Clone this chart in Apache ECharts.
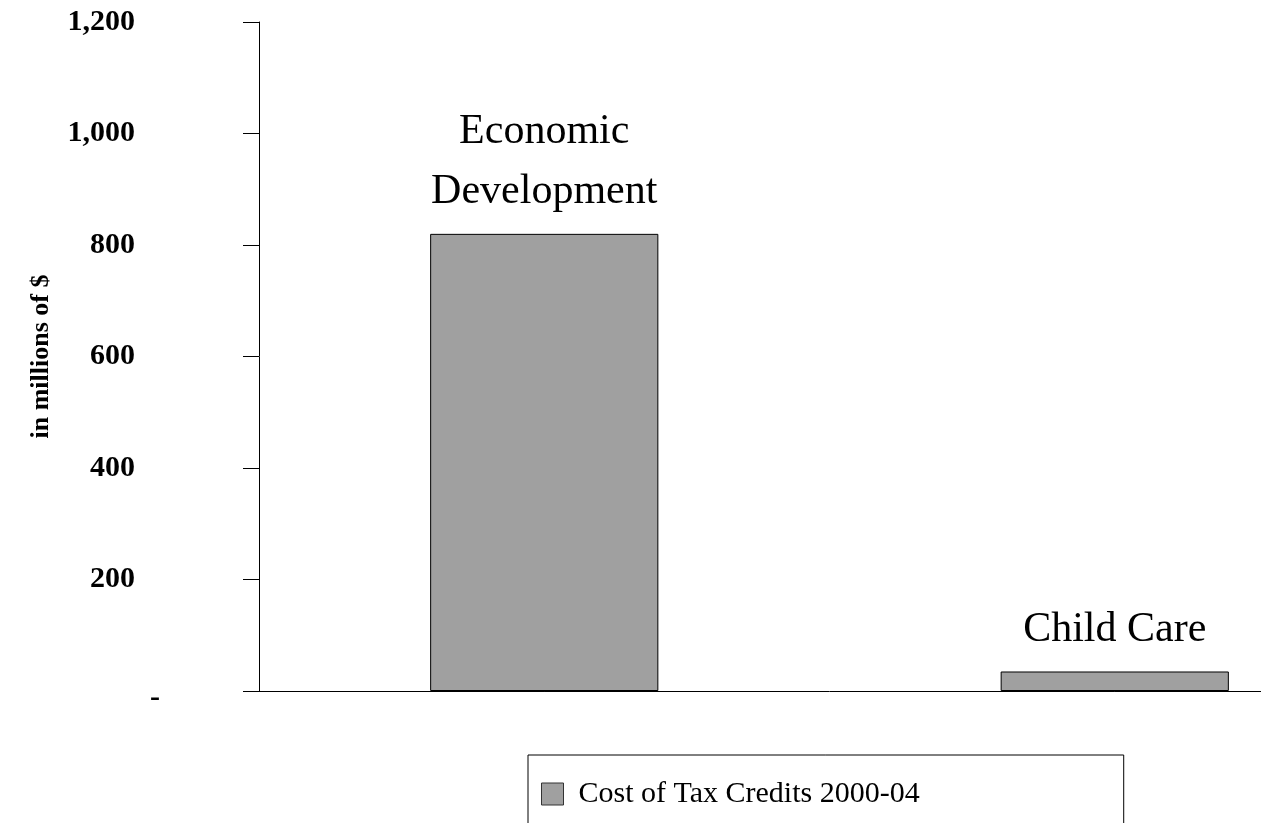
<!DOCTYPE html>
<html>
<head>
<meta charset="utf-8">
<script src="https://cdn.jsdelivr.net/npm/echarts@6/dist/echarts.min.js"></script>
<style>
    html, body { margin: 0; padding: 0; background: #fff; overflow: hidden; }
    /* plot runs past the right edge of the window in the original */
    #barChart { width: 1400px; height: 823px; }
</style>
</head>
<body>
<div id="barChart"></div>
<script>
    // categories and values
    const categories = ['Economic Development', 'Child Care'];
    const costValues = [820, 35];
    const seriesName = 'Cost of Tax Credits 2000-04';
    const yTicks = [0, 200, 400, 600, 800, 1000, 1200];

    const barChart = echarts.init(document.getElementById('barChart'));
    const serif = "'Liberation Serif', 'Times New Roman', serif";

    const option = {
        animation: false,
        grid: {
            left: 259,
            right: 0,
            top: 22,
            bottom: 132
        },
        legend: {
            data: [seriesName],
            left: 528,
            top: 755,
            padding: [24, 204, 40, 13],
            borderColor: '#000',
            borderWidth: 1,
            icon: 'rect',
            itemWidth: 22,
            itemHeight: 22,
            itemStyle: { borderColor: '#333', borderWidth: 1 },
            textStyle: {
                fontFamily: serif,
                fontSize: 30,
                color: '#000',
                padding: [0, 0, 0, 10]
            }
        },
        xAxis: {
            type: 'category',
            data: categories,
            axisLine: { lineStyle: { color: '#000', width: 1 } },
            axisTick: { show: false },
            axisLabel: { show: false }
        },
        yAxis: {
            type: 'value',
            min: yTicks[0],
            max: yTicks[yTicks.length - 1],
            interval: 200,
            name: 'in millions of $',
            nameLocation: 'middle',
            nameRotate: 90,
            nameGap: 205,
            nameTextStyle: {
                fontFamily: serif,
                fontSize: 26,
                fontWeight: 'bold',
                color: '#000'
            },
            splitLine: { show: false },
            axisLine: { show: true, lineStyle: { color: '#000', width: 1 } },
            axisTick: { show: true, length: 16, lineStyle: { color: '#000' } },
            axisLabel: {
                margin: 99,
                formatter: function (v) {
                    if (v === 0) return '{z|-}';
                    return '{n|' + v.toLocaleString('en-US') + '}';
                },
                rich: {
                    n: {
                        fontFamily: serif,
                        fontSize: 30,
                        fontWeight: 'bold',
                        color: '#000',
                        padding: [0, 25, 0, 0]
                    },
                    z: {
                        fontFamily: serif,
                        fontSize: 30,
                        fontWeight: 'bold',
                        color: '#000',
                        padding: [14, 0, 0, 0]
                    }
                }
            }
        },
        series: [{
            name: seriesName,
            type: 'bar',
            data: costValues,
            barWidth: '40%',
            itemStyle: {
                color: '#a0a0a0',
                borderColor: '#000',
                borderWidth: 1
            },
            label: {
                show: true,
                position: 'top',
                distance: 12,
                fontFamily: serif,
                fontSize: 42,
                lineHeight: 60,
                color: '#000',
                formatter: function (p) {
                    return p.name.length > 12 ? p.name.replace(' ', '\n') : p.name;
                }
            }
        }]
    };

    barChart.setOption(option);
</script>
</body>
</html>
